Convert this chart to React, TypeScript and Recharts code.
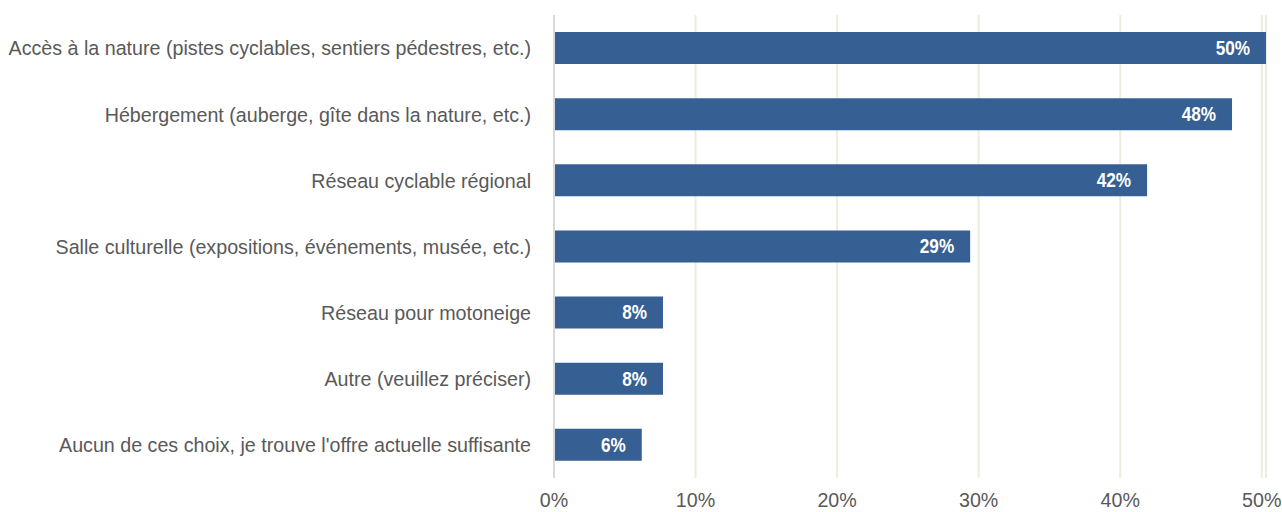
import React from 'react';
import { BarChart, Bar, XAxis, YAxis, CartesianGrid, LabelList } from 'recharts';

const categories = [
	'Accès à la nature (pistes cyclables, sentiers pédestres, etc.)',
	'Hébergement (auberge, gîte dans la nature, etc.)',
	'Réseau cyclable régional',
	'Salle culturelle (expositions, événements, musée, etc.)',
	'Réseau pour motoneige',
	'Autre (veuillez préciser)',
	"Aucun de ces choix, je trouve l'offre actuelle suffisante",
];
const shares = [50.3, 47.9, 41.9, 29.4, 7.7, 7.7, 6.2];
const xTicks = [0, 10, 20, 30, 40, 50];

const data = categories.map((name, i) => ({ name, value: shares[i] }));

const font = "'Liberation Sans', Arial, sans-serif";

// the original uses a narrow font, so squeeze the text a bit
const NarrowTick = (props: any) => {
	const { x, y, payload, textAnchor, fmt, dy } = props;
	const label = fmt ? fmt(payload.value) : payload.value;
	return (
		<g transform={`translate(${x},${y}) scale(0.96,1)`}>
			<text
				x={0}
				y={0}
				dy={dy}
				textAnchor={textAnchor}
				fill='#595959'
				fontSize={20.5}
				fontFamily={font}
			>
				{label}
			</text>
		</g>
	);
};

const BarValue = (props: any) => {
	const { x, y, width, height, value } = props;
	return (
		<g transform={`translate(${x + width - 16},${y + height / 2}) scale(0.88,1)`}>
			<text
				x={0}
				y={0}
				textAnchor='end'
				dominantBaseline='central'
				fill='#ffffff'
				fontSize={19.5}
				fontWeight='bold'
				fontFamily={font}
			>
				{`${Math.round(value)}%`}
			</text>
		</g>
	);
};

export default function App() {
	return (
		<div style={{ position: 'absolute', left: 0, top: 0 }}>
			<BarChart
				width={1282}
				height={512}
				data={data}
				layout='vertical'
				margin={{ top: 15, right: 16, bottom: 0, left: 0 }}
				barSize={32}
			>
				<CartesianGrid horizontal={false} stroke='#ebeedc' strokeWidth={2} />
				<XAxis
					type='number'
					domain={[0, 50]}
					ticks={xTicks}
					axisLine={false}
					tickLine={false}
					height={34}
					tickMargin={8}
					tick={<NarrowTick fmt={(v: number) => `${v}%`} textAnchor='middle' dy='0.71em' />}
				/>
				<YAxis
					type='category'
					dataKey='name'
					width={554}
					axisLine={{ stroke: '#d9d9d9', strokeWidth: 2 }}
					tickLine={false}
					tickMargin={17}
					interval={0}
					tick={<NarrowTick textAnchor='end' dy='0.36em' />}
				/>
				<Bar dataKey='value' fill='#365f93' isAnimationActive={false}>
					<LabelList dataKey='value' content={<BarValue />} />
				</Bar>
			</BarChart>
		</div>
	);
}
